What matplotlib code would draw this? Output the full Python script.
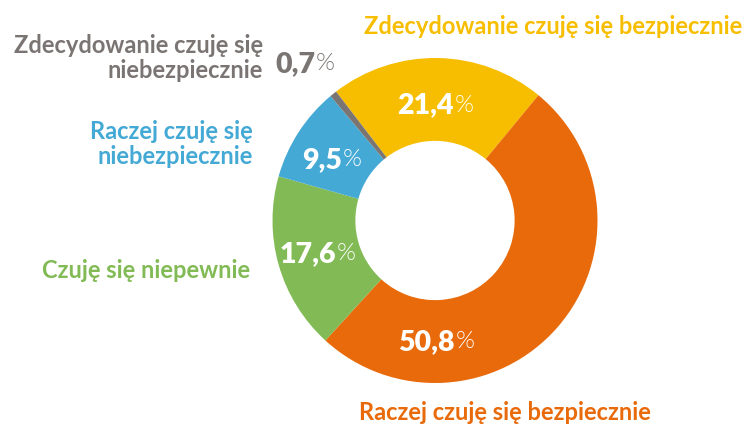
import matplotlib
matplotlib.use('Agg')
import matplotlib.pyplot as plt

kategorie = ['Zdecydowanie czuję się bezpiecznie', 'Raczej czuję się bezpiecznie',
             'Czuję się niepewnie', 'Raczej czuję się\nniebezpiecznie',
             'Zdecydowanie czuję się\nniebezpiecznie']
wartosci = [21.4, 50.8, 17.6, 9.5, 0.7]
etykiety = ['21,4', '50,8', '17,6', '9,5', '0,7']
kolory = ['#F7BE00', '#E86A0A', '#82BB55', '#44A9D4', '#7A7572']

W, H = 748, 427
fig = plt.figure(figsize=(W / 100, H / 100), dpi=100)


def px(x, y):
    return x / W, 1 - y / H


# pierscien
cx, cy, r = 435, 221.5, 162.5
ax = fig.add_axes([(cx - r) / W, (H - cy - r) / H, 2 * r / W, 2 * r / H])
ax.pie(wartosci, colors=kolory, startangle=127.5, counterclock=False,
       radius=1, wedgeprops=dict(width=0.51, linewidth=0))
ax.set_xlim(-1, 1)
ax.set_ylim(-1, 1)
ax.set_aspect('equal')
ax.axis('off')

# procenty (liczba pogrubiona, znak % cienki)
poz_proc = [(454, 105, 'white'), (455, 342, 'white'), (336, 254, 'white'),
            (342, 160, 'white'), (315, 64, '#7A7572')]
for (x, y, c), t in zip(poz_proc, etykiety):
    fig.text(*px(x, y), t, ha='right', va='center', fontsize=20.5,
             fontfamily='Lato', fontweight='heavy', color=c)
    fig.text(*px(x + 1, y), '%', ha='left', va='center', fontsize=17.5,
             fontfamily='Lato', fontweight=300, color=c)

# opisy kategorii
poz_kat = [(742, 27, 'right'), (505, 413, 'center'), (250, 270, 'right'),
           (253, 144, 'right'), (263, 58, 'right')]
for (x, y, ha), t, c in zip(poz_kat, kategorie, kolory):
    fig.text(*px(x, y), t, ha=ha, va='center', fontsize=17, fontfamily='Lato',
             fontweight='bold', color=c, linespacing=1.15, multialignment='right')

fig.savefig('out.png', dpi=100)
